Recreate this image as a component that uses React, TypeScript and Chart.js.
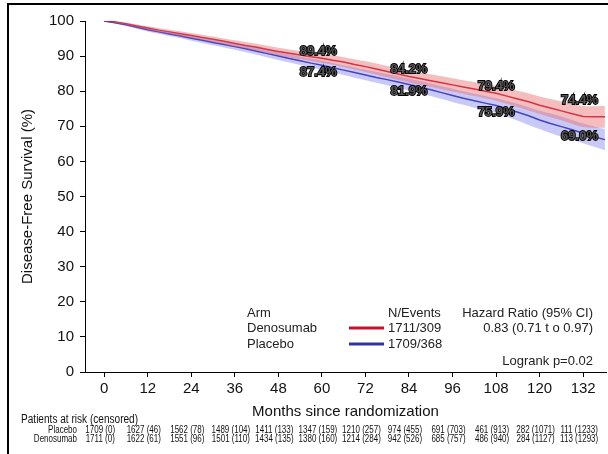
import React, { useEffect, useRef } from "react";
import { Chart, registerables } from "chart.js";

Chart.register(...registerables);

// ---------- data ----------
const curveMonths = [0,3,6,9,12,15,18,21,24,27,30,33,36,39,42,45,48,51,54,57,60,63,66,69,72,75,78,81,84,87,90,93,96,99,102,105,108,111,114,117,120,123,126,129,132,135,138];
const denosumabSurv = [100,99.7,99.2,98.6,98.0,97.4,96.9,96.4,95.9,95.3,94.8,94.2,93.6,93.0,92.5,91.9,91.3,90.8,90.3,89.8,89.4,88.8,88.3,87.6,87.0,86.3,85.6,84.9,84.2,83.6,83.0,82.4,81.8,81.2,80.6,80.0,79.4,78.6,77.8,77.0,76.0,75.2,74.4,73.6,72.8,72.7,72.7];
const placeboSurv = [100,99.5,98.9,98.2,97.5,96.9,96.3,95.7,95.1,94.5,93.9,93.3,92.7,92.1,91.4,90.7,90.0,89.3,88.7,88.0,87.4,86.7,86.0,85.3,84.6,83.9,83.3,82.6,81.9,81.2,80.4,79.6,78.8,78.0,77.3,76.6,75.9,75.0,74.0,73.0,71.8,70.8,69.9,69.0,68.0,67.0,66.2];

const bandMonths = [0,6,12,18,24,30,36,42,48,54,60,66,72,78,84,90,96,102,108,114,120,126,132,138];
const denosumabUpper = [100,99.5,98.5,97.5,96.6,95.6,94.5,93.5,92.4,91.5,90.7,89.7,88.5,87.2,85.9,84.8,83.7,82.6,81.5,80.1,78.5,77.1,75.8,75.8];
const denosumabLower = [100,98.9,97.5,96.3,95.2,94.0,92.7,91.5,90.2,89.1,88.1,86.9,85.5,84.0,82.5,81.2,79.9,78.6,77.3,75.5,73.5,71.7,69.8,69.6];
const placeboUpper = [100,99.2,98.0,96.9,95.8,94.7,93.6,92.4,91.1,89.9,88.7,87.4,86.1,84.9,83.6,82.2,80.7,79.3,78.0,76.4,74.4,72.8,70.8,69.2];
const placeboLower = [100,98.6,97.0,95.7,94.4,93.1,91.8,90.4,88.9,87.5,86.1,84.6,83.1,81.7,80.2,78.6,76.9,75.3,73.8,71.6,69.2,67.0,65.2,63.2];

const labelMonths = [59, 84, 108, 131];
const denosumabLabels = [89.4, 84.2, 79.4, 74.4];
const placeboLabels = [87.4, 81.9, 75.9, 69.0];

const xTickValues = [0,12,24,36,48,60,72,84,96,108,120,132];
const yTickValues = [0,10,20,30,40,50,60,70,80,90,100];

const placeboAtRisk = [1709,1627,1562,1489,1411,1347,1210,974,691,461,282,111];
const placeboCensored = [0,46,78,104,133,159,257,455,703,913,1071,1233];
const denosumabAtRisk = [1711,1622,1551,1501,1434,1380,1214,942,685,486,284,113];
const denosumabCensored = [0,61,96,110,135,160,284,526,757,940,1127,1293];

const armNames = ["Denosumab", "Placebo"];
const armNEvents = ["1711/309", "1709/368"];
const hazardText = "0.83 (0.71 t o 0.97)";
const logrankText = "Logrank p=0.02";

const RED = "#C8102E";
const BLUE = "#3333A8";
const FONT = "'Liberation Sans', Arial, Helvetica, sans-serif";

const pts = (xs: number[], ys: number[]) => xs.map((x, i) => ({ x, y: ys[i] }));

function narrowText(ctx: CanvasRenderingContext2D, t: string, x: number, y: number, sx: number) {
  ctx.save();
  ctx.translate(x, y);
  ctx.scale(sx, 1);
  ctx.fillText(t, 0, 0);
  ctx.restore();
}

const overlayPlugin = {
  id: "overlay",
  afterDraw(chart: any) {
    const ctx = chart.ctx as CanvasRenderingContext2D;
    const xs = chart.scales.x;
    const ys = chart.scales.y;
    ctx.save();

    // frame
    ctx.strokeStyle = "#000";
    ctx.lineWidth = 2;
    ctx.beginPath();
    ctx.moveTo(8, 460);
    ctx.lineTo(8, 4);
    ctx.lineTo(612, 4);
    ctx.stroke();

    // y title
    ctx.fillStyle = "#111";
    ctx.font = `15px ${FONT}`;
    ctx.textAlign = "center";
    ctx.textBaseline = "middle";
    ctx.save();
    ctx.translate(28, (ys.top + ys.bottom) / 2);
    ctx.rotate(-Math.PI / 2);
    ctx.fillText("Disease-Free Survival (%)", 0, 0);
    ctx.restore();

    // x title
    ctx.fillText("Months since randomization", (xs.left + xs.right) / 2, 412);

    // percent labels
    ctx.font = `bold 13px ${FONT}`;
    ctx.lineWidth = 1.8;
    ctx.strokeStyle = "#000";
    ctx.fillStyle = "#555";
    const drawPct = (v: number, m: number, dy: number) => {
      const px = xs.getPixelForValue(m);
      const py = ys.getPixelForValue(v) + dy;
      const t = v.toFixed(1) + "%";
      ctx.strokeText(t, px, py);
      ctx.fillText(t, px, py);
    };
    labelMonths.forEach((m, i) => {
      drawPct(denosumabLabels[i], m, i === 3 ? -10 : -7);
      drawPct(placeboLabels[i], m, 7);
    });

    // legend table
    ctx.fillStyle = "#222";
    ctx.font = `13px ${FONT}`;
    ctx.textAlign = "left";
    ctx.fillText("Arm", 247, 313);
    ctx.fillText(armNames[0], 247, 328);
    ctx.fillText(armNames[1], 247, 344);
    ctx.fillText("N/Events", 388, 313);
    ctx.fillText(armNEvents[0], 388, 328);
    ctx.fillText(armNEvents[1], 388, 344);
    ctx.textAlign = "right";
    ctx.fillText("Hazard Ratio (95% CI)", 593, 313);
    ctx.fillText(hazardText, 593, 328);
    ctx.fillText(logrankText, 593, 361);
    ctx.lineWidth = 3;
    ctx.strokeStyle = RED;
    ctx.beginPath(); ctx.moveTo(349, 328); ctx.lineTo(384, 328); ctx.stroke();
    ctx.strokeStyle = BLUE;
    ctx.beginPath(); ctx.moveTo(349, 344); ctx.lineTo(384, 344); ctx.stroke();

    // risk table
    ctx.fillStyle = "#111";
    ctx.textAlign = "left";
    ctx.font = `12px ${FONT}`;
    narrowText(ctx, "Patients at risk (censored)", 21, 420, 0.84);
    ctx.font = `10px ${FONT}`;
    ctx.textAlign = "right";
    narrowText(ctx, "Placebo", 77, 430, 0.8);
    narrowText(ctx, "Denosumab", 77, 439, 0.8);
    ctx.textAlign = "center";
    xTickValues.forEach((m, i) => {
      const px = xs.getPixelForValue(m) - 4;
      narrowText(ctx, `${placeboAtRisk[i]} (${placeboCensored[i]})`, px, 430, 0.8);
      narrowText(ctx, `${denosumabAtRisk[i]} (${denosumabCensored[i]})`, px, 439, 0.8);
    });

    ctx.restore();
  },
};

export default function App() {
  const ref = useRef<HTMLCanvasElement | null>(null);
  useEffect(() => {
    if (!ref.current) return;
    const chart = new Chart(ref.current, {
      type: "line",
      data: {
        datasets: [
          { data: pts(bandMonths, denosumabLower), borderWidth: 0, pointRadius: 0, fill: false, tension: 0.3 },
          { data: pts(bandMonths, denosumabUpper), borderWidth: 0, pointRadius: 0, fill: "-1", backgroundColor: "rgba(232,100,100,0.42)", tension: 0.3 },
          { data: pts(bandMonths, placeboLower), borderWidth: 0, pointRadius: 0, fill: false, tension: 0.3 },
          { data: pts(bandMonths, placeboUpper), borderWidth: 0, pointRadius: 0, fill: "-1", backgroundColor: "rgba(100,100,232,0.35)", tension: 0.3 },
          { data: pts(curveMonths, denosumabSurv), borderColor: RED, borderWidth: 1.5, pointRadius: 0, fill: false },
          { data: pts(curveMonths, placeboSurv), borderColor: BLUE, borderWidth: 1.5, pointRadius: 0, fill: false },
        ] as any,
      },
      options: {
        animation: false,
        responsive: false,
        maintainAspectRatio: false,
        layout: { padding: { left: 0, right: 2, top: 21, bottom: 0 } },
        plugins: { legend: { display: false }, tooltip: { enabled: false } },
        scales: {
          x: {
            type: "linear",
            min: -5.3,
            max: 138.3,
            afterBuildTicks: (s: any) => { s.ticks = xTickValues.map((v) => ({ value: v })); },
            afterFit: (s: any) => { s.height = 82; },
            grid: { drawOnChartArea: false, drawTicks: true, tickLength: 5, color: "#000" },
            border: { color: "#000", width: 1 },
            ticks: { font: { size: 15, family: FONT }, color: "#111", padding: 3, maxRotation: 0, autoSkip: false },
          },
          y: {
            type: "linear",
            min: 0,
            max: 100,
            afterBuildTicks: (s: any) => { s.ticks = yTickValues.map((v) => ({ value: v })); },
            afterFit: (s: any) => { s.width = 85; },
            grid: { drawOnChartArea: false, drawTicks: true, tickLength: 5, color: "#000" },
            border: { color: "#000", width: 1 },
            ticks: { font: { size: 15, family: FONT }, color: "#111", padding: 6 },
          },
        },
      } as any,
      plugins: [overlayPlugin],
    });
    return () => chart.destroy();
  }, []);
  return (
    <div style={{ position: "fixed", left: 0, top: 0, width: 608, height: 454, background: "#fff" }}>
      <canvas ref={ref} width={608} height={454} style={{ width: 608, height: 454 }} />
    </div>
  );
}
